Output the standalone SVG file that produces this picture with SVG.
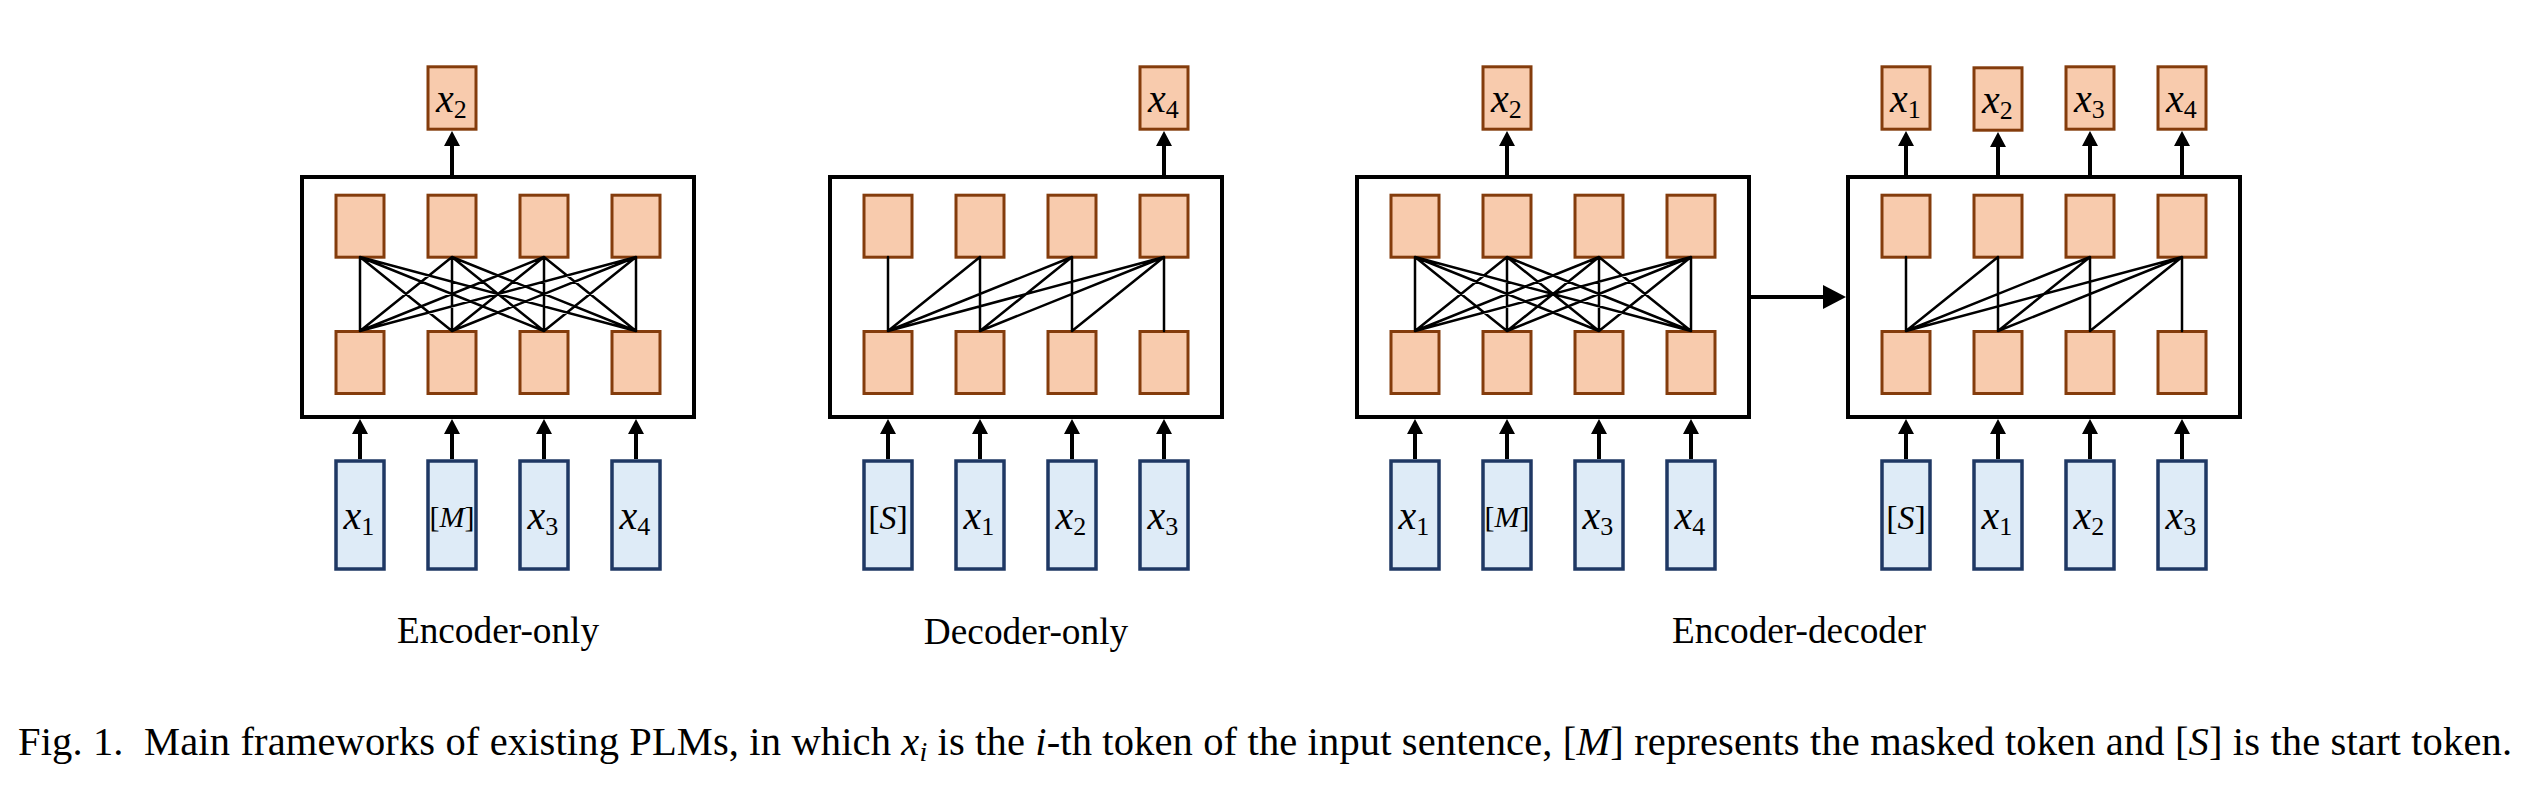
<svg xmlns="http://www.w3.org/2000/svg" width="2526" height="794" viewBox="0 0 2526 794">
<style>
.frame{fill:#ffffff;stroke:#000000;stroke-width:4}
.hid{fill:#f8cbad;stroke:#843c0c;stroke-width:3}
.inp{fill:#deebf7;stroke:#1f3864;stroke-width:3.5}
.arr{stroke:#000000;stroke-width:4;fill:none}
.link{stroke:#000000;stroke-width:2.5;fill:none;stroke-linecap:round}
.m{font-family:"Liberation Serif",serif;font-style:italic;font-size:40px;fill:#000}
.sub{font-style:normal;font-size:26px}
.brm{font-family:"Liberation Serif",serif;font-size:30px;fill:#000;text-anchor:middle}
.brs{font-family:"Liberation Serif",serif;font-size:34px;fill:#000;text-anchor:middle}
.lbl{font-family:"Liberation Serif",serif;font-size:37.3px;fill:#000;text-anchor:middle}
.cap{font-family:"Liberation Serif",serif;font-size:40.5px;fill:#000}
.it{font-style:italic}
</style>
<defs>
<marker id="ah" markerUnits="userSpaceOnUse" markerWidth="16" markerHeight="16" refX="3" refY="8" orient="auto"><path d="M0,0 L15,8 L0,16 z" fill="#000"/></marker>
<marker id="ahL" markerUnits="userSpaceOnUse" markerWidth="24" markerHeight="24" refX="5" refY="12" orient="auto"><path d="M0,0 L23,12 L0,24 z" fill="#000"/></marker>
</defs>

<!-- Encoder-only -->
<g id="enc-only">
<rect class="frame" x="302" y="177" width="392" height="240"/>
<rect class="hid" x="336" y="195.2" width="48" height="62"/>
<rect class="hid" x="428" y="195.2" width="48" height="62"/>
<rect class="hid" x="520" y="195.2" width="48" height="62"/>
<rect class="hid" x="612" y="195.2" width="48" height="62"/>
<rect class="hid" x="336" y="331.5" width="48" height="62"/>
<rect class="hid" x="428" y="331.5" width="48" height="62"/>
<rect class="hid" x="520" y="331.5" width="48" height="62"/>
<rect class="hid" x="612" y="331.5" width="48" height="62"/>
</g>
<g id="enc-only-out"><rect class="hid" x="428" y="66.8" width="48" height="62.4"/><text class="m" x="436" y="112">x<tspan class="sub" dy="6">2</tspan></text></g>
<g id="enc-only-in1"><rect class="inp" x="336" y="461" width="48" height="108"/><text class="m" x="343.5" y="529">x<tspan class="sub" dy="6">1</tspan></text></g>
<g id="enc-only-in2"><rect class="inp" x="428" y="461" width="48" height="108"/><text class="brm" x="452" y="527">[<tspan class="it">M</tspan>]</text></g>
<g id="enc-only-in3"><rect class="inp" x="520" y="461" width="48" height="108"/><text class="m" x="527.5" y="529">x<tspan class="sub" dy="6">3</tspan></text></g>
<g id="enc-only-in4"><rect class="inp" x="612" y="461" width="48" height="108"/><text class="m" x="619.5" y="529">x<tspan class="sub" dy="6">4</tspan></text></g>
<text class="lbl" x="498" y="643">Encoder-only</text>

<!-- Decoder-only -->
<g id="dec-only">
<rect class="frame" x="830" y="177" width="392" height="240"/>
<rect class="hid" x="864" y="195.2" width="48" height="62"/>
<rect class="hid" x="956" y="195.2" width="48" height="62"/>
<rect class="hid" x="1048" y="195.2" width="48" height="62"/>
<rect class="hid" x="1140" y="195.2" width="48" height="62"/>
<rect class="hid" x="864" y="331.5" width="48" height="62"/>
<rect class="hid" x="956" y="331.5" width="48" height="62"/>
<rect class="hid" x="1048" y="331.5" width="48" height="62"/>
<rect class="hid" x="1140" y="331.5" width="48" height="62"/>
</g>
<g id="dec-only-out"><rect class="hid" x="1140" y="66.8" width="48" height="62.4"/><text class="m" x="1148" y="112">x<tspan class="sub" dy="6">4</tspan></text></g>
<g id="dec-only-in1"><rect class="inp" x="864" y="461" width="48" height="108"/><text class="brs" x="888" y="529">[<tspan class="it">S</tspan>]</text></g>
<g id="dec-only-in2"><rect class="inp" x="956" y="461" width="48" height="108"/><text class="m" x="963.5" y="529">x<tspan class="sub" dy="6">1</tspan></text></g>
<g id="dec-only-in3"><rect class="inp" x="1048" y="461" width="48" height="108"/><text class="m" x="1055.5" y="529">x<tspan class="sub" dy="6">2</tspan></text></g>
<g id="dec-only-in4"><rect class="inp" x="1140" y="461" width="48" height="108"/><text class="m" x="1147.5" y="529">x<tspan class="sub" dy="6">3</tspan></text></g>
<text class="lbl" x="1026" y="644">Decoder-only</text>

<!-- Encoder-decoder: encoder -->
<g id="ed-enc">
<rect class="frame" x="1357" y="177" width="392" height="240"/>
<rect class="hid" x="1391" y="195.2" width="48" height="62"/>
<rect class="hid" x="1483" y="195.2" width="48" height="62"/>
<rect class="hid" x="1575" y="195.2" width="48" height="62"/>
<rect class="hid" x="1667" y="195.2" width="48" height="62"/>
<rect class="hid" x="1391" y="331.5" width="48" height="62"/>
<rect class="hid" x="1483" y="331.5" width="48" height="62"/>
<rect class="hid" x="1575" y="331.5" width="48" height="62"/>
<rect class="hid" x="1667" y="331.5" width="48" height="62"/>
</g>
<g id="ed-enc-out"><rect class="hid" x="1483" y="66.8" width="48" height="62.4"/><text class="m" x="1491" y="112">x<tspan class="sub" dy="6">2</tspan></text></g>
<g id="ed-enc-in1"><rect class="inp" x="1391" y="461" width="48" height="108"/><text class="m" x="1398.5" y="529">x<tspan class="sub" dy="6">1</tspan></text></g>
<g id="ed-enc-in2"><rect class="inp" x="1483" y="461" width="48" height="108"/><text class="brm" x="1507" y="527">[<tspan class="it">M</tspan>]</text></g>
<g id="ed-enc-in3"><rect class="inp" x="1575" y="461" width="48" height="108"/><text class="m" x="1582.5" y="529">x<tspan class="sub" dy="6">3</tspan></text></g>
<g id="ed-enc-in4"><rect class="inp" x="1667" y="461" width="48" height="108"/><text class="m" x="1674.5" y="529">x<tspan class="sub" dy="6">4</tspan></text></g>

<!-- Encoder-decoder: decoder -->
<g id="ed-dec">
<rect class="frame" x="1848" y="177" width="392" height="240"/>
<rect class="hid" x="1882" y="195.2" width="48" height="62"/>
<rect class="hid" x="1974" y="195.2" width="48" height="62"/>
<rect class="hid" x="2066" y="195.2" width="48" height="62"/>
<rect class="hid" x="2158" y="195.2" width="48" height="62"/>
<rect class="hid" x="1882" y="331.5" width="48" height="62"/>
<rect class="hid" x="1974" y="331.5" width="48" height="62"/>
<rect class="hid" x="2066" y="331.5" width="48" height="62"/>
<rect class="hid" x="2158" y="331.5" width="48" height="62"/>
</g>
<g id="ed-dec-out1"><rect class="hid" x="1882" y="66.8" width="48" height="62.4"/><text class="m" x="1890" y="112">x<tspan class="sub" dy="6">1</tspan></text></g>
<g id="ed-dec-out2"><rect class="hid" x="1974" y="67.8" width="48" height="62.4"/><text class="m" x="1982" y="113">x<tspan class="sub" dy="6">2</tspan></text></g>
<g id="ed-dec-out3"><rect class="hid" x="2066" y="66.8" width="48" height="62.4"/><text class="m" x="2074" y="112">x<tspan class="sub" dy="6">3</tspan></text></g>
<g id="ed-dec-out4"><rect class="hid" x="2158" y="66.8" width="48" height="62.4"/><text class="m" x="2166" y="112">x<tspan class="sub" dy="6">4</tspan></text></g>
<g id="ed-dec-in1"><rect class="inp" x="1882" y="461" width="48" height="108"/><text class="brs" x="1906" y="529">[<tspan class="it">S</tspan>]</text></g>
<g id="ed-dec-in2"><rect class="inp" x="1974" y="461" width="48" height="108"/><text class="m" x="1981.5" y="529">x<tspan class="sub" dy="6">1</tspan></text></g>
<g id="ed-dec-in3"><rect class="inp" x="2066" y="461" width="48" height="108"/><text class="m" x="2073.5" y="529">x<tspan class="sub" dy="6">2</tspan></text></g>
<g id="ed-dec-in4"><rect class="inp" x="2158" y="461" width="48" height="108"/><text class="m" x="2165.5" y="529">x<tspan class="sub" dy="6">3</tspan></text></g>
<text class="lbl" x="1799" y="643">Encoder-decoder</text>

<!-- Connectors -->
<g id="connectors">
<path class="link" d="M360 257L360 331M360 257L452 331M360 257L544 331M360 257L636 331M452 257L360 331M452 257L452 331M452 257L544 331M452 257L636 331M544 257L360 331M544 257L452 331M544 257L544 331M544 257L636 331M636 257L360 331M636 257L452 331M636 257L544 331M636 257L636 331"/>
<path class="link" d="M888 257L888 331M980 257L888 331M980 257L980 331M1072 257L888 331M1072 257L980 331M1072 257L1072 331M1164 257L888 331M1164 257L980 331M1164 257L1072 331M1164 257L1164 331"/>
<path class="link" d="M1415 257L1415 331M1415 257L1507 331M1415 257L1599 331M1415 257L1691 331M1507 257L1415 331M1507 257L1507 331M1507 257L1599 331M1507 257L1691 331M1599 257L1415 331M1599 257L1507 331M1599 257L1599 331M1599 257L1691 331M1691 257L1415 331M1691 257L1507 331M1691 257L1599 331M1691 257L1691 331"/>
<path class="link" d="M1906 257L1906 331M1998 257L1906 331M1998 257L1998 331M2090 257L1906 331M2090 257L1998 331M2090 257L2090 331M2182 257L1906 331M2182 257L1998 331M2182 257L2090 331M2182 257L2182 331"/>
<line class="arr" x1="452" y1="177" x2="452" y2="143" marker-end="url(#ah)"/>
<line class="arr" x1="1164" y1="177" x2="1164" y2="143" marker-end="url(#ah)"/>
<line class="arr" x1="1507" y1="177" x2="1507" y2="143" marker-end="url(#ah)"/>
<line class="arr" x1="1906" y1="177" x2="1906" y2="143" marker-end="url(#ah)"/>
<line class="arr" x1="1998" y1="177" x2="1998" y2="144" marker-end="url(#ah)"/>
<line class="arr" x1="2090" y1="177" x2="2090" y2="143" marker-end="url(#ah)"/>
<line class="arr" x1="2182" y1="177" x2="2182" y2="143" marker-end="url(#ah)"/>
<line class="arr" x1="360" y1="459" x2="360" y2="431" marker-end="url(#ah)"/>
<line class="arr" x1="452" y1="459" x2="452" y2="431" marker-end="url(#ah)"/>
<line class="arr" x1="544" y1="459" x2="544" y2="431" marker-end="url(#ah)"/>
<line class="arr" x1="636" y1="459" x2="636" y2="431" marker-end="url(#ah)"/>
<line class="arr" x1="888" y1="459" x2="888" y2="431" marker-end="url(#ah)"/>
<line class="arr" x1="980" y1="459" x2="980" y2="431" marker-end="url(#ah)"/>
<line class="arr" x1="1072" y1="459" x2="1072" y2="431" marker-end="url(#ah)"/>
<line class="arr" x1="1164" y1="459" x2="1164" y2="431" marker-end="url(#ah)"/>
<line class="arr" x1="1415" y1="459" x2="1415" y2="431" marker-end="url(#ah)"/>
<line class="arr" x1="1507" y1="459" x2="1507" y2="431" marker-end="url(#ah)"/>
<line class="arr" x1="1599" y1="459" x2="1599" y2="431" marker-end="url(#ah)"/>
<line class="arr" x1="1691" y1="459" x2="1691" y2="431" marker-end="url(#ah)"/>
<line class="arr" x1="1906" y1="459" x2="1906" y2="431" marker-end="url(#ah)"/>
<line class="arr" x1="1998" y1="459" x2="1998" y2="431" marker-end="url(#ah)"/>
<line class="arr" x1="2090" y1="459" x2="2090" y2="431" marker-end="url(#ah)"/>
<line class="arr" x1="2182" y1="459" x2="2182" y2="431" marker-end="url(#ah)"/>
<line class="arr" x1="1751" y1="297" x2="1828" y2="297" stroke-width="4.5" marker-end="url(#ahL)"/>
</g>

<text class="cap" x="18" y="755" textLength="2494">Fig. 1.&#160; Main frameworks of existing PLMs, in which <tspan class="it">x</tspan><tspan class="it" font-size="28" dy="6">i</tspan><tspan dy="-6"> is the </tspan><tspan class="it">i</tspan>-th token of the input sentence, [<tspan class="it">M</tspan>] represents the masked token and [<tspan class="it">S</tspan>] is the start token.</text>
</svg>
